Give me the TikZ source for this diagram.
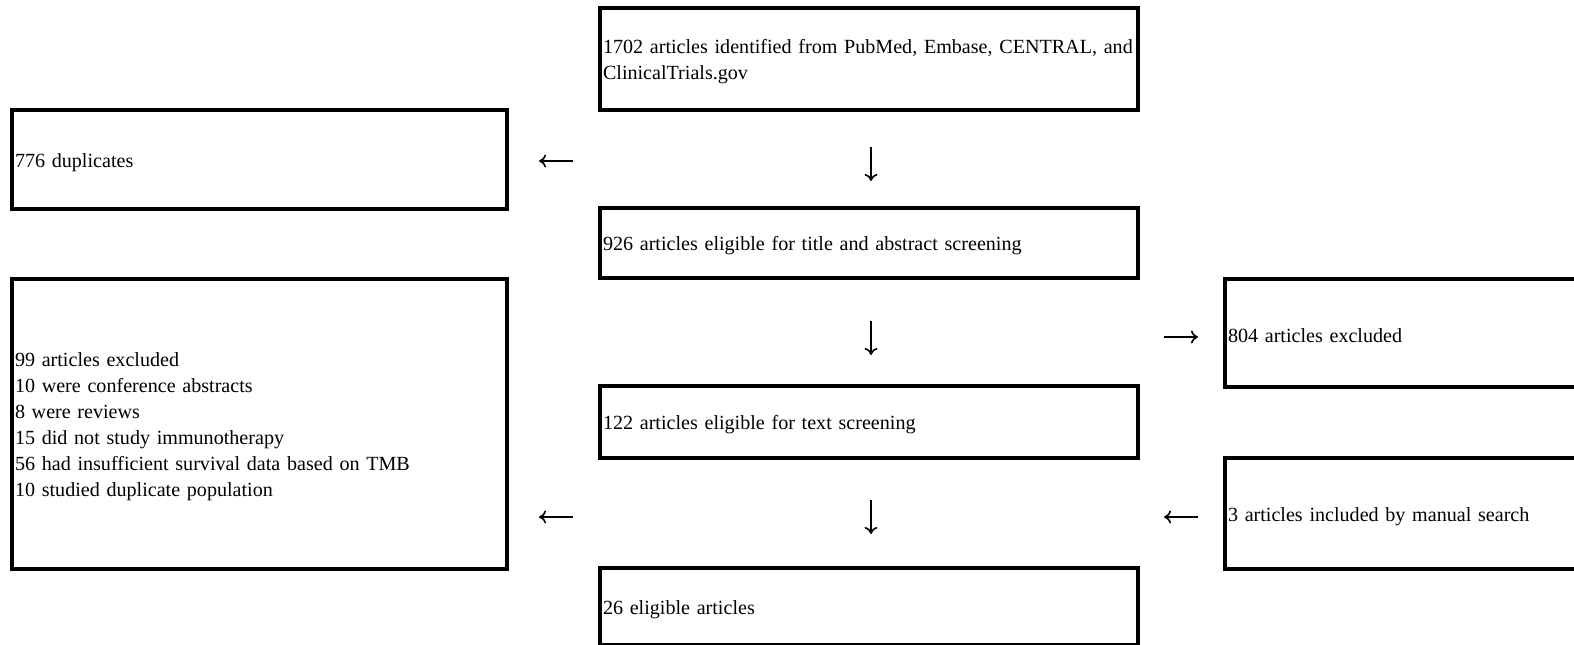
\documentclass[tikz,border=0pt]{standalone}
\usepackage{fontspec}
\setmainfont[WordSpace=0.75]{Liberation Serif}
\usetikzlibrary{arrows.meta}
\tikzset{
  box/.style={draw, line width=3.5pt, rectangle, anchor=north west, outer sep=0pt,
    inner xsep=3pt, inner ysep=0pt, align=left,
    font=\fontsize{20.1}{26}\selectfont,
    execute at begin node={\rule{0pt}{20pt}}},
  arr/.style={line width=1.6pt, -{To[length=7pt,width=13pt]}},
}
\begin{document}
\begin{tikzpicture}[x=1pt,y=-1pt]
\useasboundingbox (0,0) rectangle (1574,645);
\node[box, text width=532pt, minimum height=102pt] (top) at (600,8)
  {\mbox{1702 articles identified from PubMed, Embase, CENTRAL, and}\\ClinicalTrials.gov};
\node[box, text width=489pt, minimum height=99pt] (dup) at (12,110) {776 duplicates};
\node[box, text width=532pt, minimum height=70pt] (s926) at (600,208)
  {926 articles eligible for title and abstract screening};
\node[box, text width=489pt, minimum height=290pt] (exc99) at (12,279)
  {99 articles excluded\\10 were conference abstracts\\8 were reviews\\15 did not study immunotherapy\\56 had insufficient survival data based on TMB\\10 studied duplicate population};
\node[box, text width=400pt, minimum height=108pt] (exc804) at (1225,279) {804 articles excluded};
\node[box, text width=532pt, minimum height=72pt] (s122) at (600,386)
  {122 articles eligible for text screening};
\node[box, text width=400pt, minimum height=111pt] (man3) at (1225,458) {3 articles included by manual search};
\node[box, text width=532pt, minimum height=77pt] (fin) at (600,568) {26 eligible articles};
% arrows
\coordinate (l1s) at (573,161); \coordinate (l1e) at (539,161);
\coordinate (d1s) at (871,147); \coordinate (d1e) at (871,181);
\coordinate (d2s) at (871,321); \coordinate (d2e) at (871,355);
\coordinate (r1s) at (1164,337); \coordinate (r1e) at (1198,337);
\coordinate (l2s) at (573,517); \coordinate (l2e) at (539,517);
\coordinate (d3s) at (871,500); \coordinate (d3e) at (871,534);
\coordinate (l3s) at (1198,517); \coordinate (l3e) at (1164,517);
\draw[arr] (l1s) -- (l1e);
\draw[arr] (d1s) -- (d1e);
\draw[arr] (d2s) -- (d2e);
\draw[arr] (r1s) -- (r1e);
\draw[arr] (l2s) -- (l2e);
\draw[arr] (d3s) -- (d3e);
\draw[arr] (l3s) -- (l3e);
\end{tikzpicture}
\end{document}
